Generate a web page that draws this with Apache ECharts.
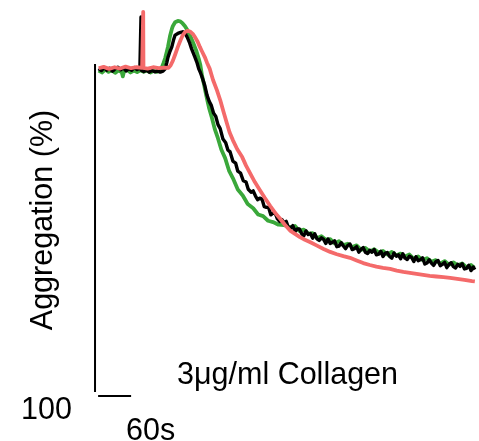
<!DOCTYPE html>
<html><head><meta charset="utf-8">
<script src="https://cdn.jsdelivr.net/npm/echarts@6/dist/echarts.min.js"></script>
<style>html,body{margin:0;padding:0;background:#fff}#c{width:479px;height:441px}</style>
</head><body><div id="c"></div>
<script>
// time (s), aggregation (%)
const greenTrace = [
[3,2.0],[9,2.6],[15,1.7],[21,2.4],[27,1.9],[33,2.7],[39,2.0],[45,2.5],[47,3.8],[49,2.3],[55,1.8],[61,2.6],[67,2.0],[73,2.5],[79,1.9],[85,2.4],[91,2.0],[97,2.6],[103,2.1],[109,2.4],[114,2.0],
[118,1.0],[121,-0.3],[124,-1.8],[127,-3.8],[129,-5.2],[131,-7.0],[133,-8.7],[136,-10.6],[138,-11.6],[142,-12.7],[147,-13.1],[151,-13.0],[155,-12.5],[160,-11.5],[164,-10.4],[170,-8.4],[175,-6.4],[181,-3.8],[185,-1.6],[188,0.4],[191,3.6],[194,5.8],[197,8.3],[200,10.6],[204,13.6],[209,16.5],[214,19.8],[220,22.7],[226,26.1],[233,28.7],[240,32.5],[247,34.8],[256,38.3],[265,40.1],[274,42.7],[284,44.0],[293,45.9],[302,46.4],[311,47.8],[320,48.2],[330,49.0],[340,49.1],[351,49.8],
[360,49.4],[368,50.9],[376,50.5],[384,51.7],[392,51.6],[400,53.1],[408,52.5],[416,53.6],[424,53.4],[432,54.7],[440,54.0],[448,55.2],[456,54.8],[464,55.8],[472,55.3],[480,56.7],[488,56.1],[496,57.2],[504,56.5],[512,57.5],[520,57.0],[528,58.1],[536,57.3],[544,58.4],[552,57.8],[560,58.7],[568,58.1],[576,59.4],[584,58.7],[592,59.8],[600,59.2],[608,60.3],[616,59.8],[624,60.9],[632,60.1],[640,61.2],[648,60.5],[656,61.4],[664,60.8],[672,62.0],[680,61.3],[686,62.1]
];
const blackTrace = [
[3,1.4],[8,2.0],[13,1.1],[18,1.9],[23,1.3],[28,2.2],[33,1.5],[38,1.0],[43,1.8],[48,1.2],[53,2.1],[58,1.4],[63,1.9],[68,1.1],[73,1.7],[78,1.3],[79.5,1.8],[80,-14.3],[80.5,1.9],[85,2.3],[90,1.9],[95,2.5],[100,2.0],[105,2.4],[110,2.1],[115,2.5],[120,2.2],
[124,1.5],[127,-0.5],[129,-2.0],[132,-3.5],[136,-5.2],[139,-7.2],[142,-8.8],[147,-9.3],[152,-9.6],[156,-9.8],[160,-9.4],[164,-8.2],[168,-6.6],[172,-4.6],[178,-2.1],[182,-0.3],[185,1.5],[188,2.6],[191,4.0],[196,6.6],[200,9.5],
[204,11.4],[208,12.7],[212,15.0],[216,16.0],[220,18.5],[224,19.7],[229,22.9],[234,24.0],[238,26.2],[242,26.8],[247,29.6],[252,30.2],[256,32.7],[261,33.3],[266,35.6],[271,36.0],[275,38.2],
[280,39.1],[284,38.7],[288,40.2],[292,41.4],[296,40.9],[300,41.2],[304,43.5],[308,43.7],[312,43.8],[316,46.0],[320,45.5],[324,45.5],[328,47.2],[332,48.0],[336,47.4],[340,48.4],[344,48.0],[348,49.9],[352,50.0],[356,49.3],[360,51.1],[364,50.3],[368,50.3],[372,51.7],[376,52.4],[380,50.9],[384,52.0],[388,51.7],[392,53.1],[396,51.8],[400,53.3],[404,53.8],[408,53.0],[412,53.5],[416,54.7],[420,53.4],[424,54.7],[428,54.4],[432,53.9],[436,55.7],[440,55.5],[444,54.5],[448,55.5],[452,56.3],[456,55.3],[460,54.9],[464,56.6],[468,56.3],[472,55.7],[476,57.4],[480,56.5],[484,56.0],[488,57.4],[492,57.8],[496,56.8],[500,57.4],[504,56.6],[508,58.2],[512,58.0],[516,57.1],[520,58.7],[524,57.7],[528,57.5],[532,58.7],[536,59.2],[540,57.6],[544,58.6],[548,58.2],[552,59.4],[556,57.9],[560,59.2],[564,59.6],[568,58.6],[572,59.0],[576,60.2],[580,58.8],[584,60.0],[588,59.7],[592,59.1],[596,61.0],[600,60.7],[604,59.7],[608,60.7],[612,61.4],[616,60.3],[620,59.9],[624,61.5],[628,61.1],[632,60.5],[636,62.1],[640,61.1],[644,60.6],[648,61.8],[652,62.2],[656,61.1],[660,61.7],[664,60.9],[668,62.5],[672,62.3],[676,61.4],[680,63.0],[684,61.9],[687,62.7]
];
const redTrace = [
[3,1.3],[12,0.9],[22,1.5],[32,1.0],[42,1.4],[52,0.8],[62,1.3],[72,1.0],[82,1.2],[83.5,1.0],[84,-15.9],[84.5,1.2],[92,1.4],[102,1.0],[112,1.3],[122,1.1],[130,1.2],
[134,0.4],[138,-1.0],[142,-2.8],[147,-5.2],[152,-7.3],[156,-8.8],[160,-9.7],[165,-10.1],[170,-9.8],[175,-9.0],[178,-8.2],[183,-6.8],[187,-5.2],[191,-3.8],[196,-2.1],[200,-0.4],[205,1.5],[208,3.2],[211,4.9],[218,8.0],[224,11.0],[230,14.6],[236,18.0],[241,20.8],[247,23.2],[255,26.0],[264,28.4],[271,31.0],[278,33.2],[287,36.0],[296,38.4],[305,40.8],[315,43.3],[324,45.4],[333,47.2],[342,49.1],[351,50.8],[360,51.8],[369,52.8],[378,53.6],[387,54.3],[400,55.4],[412,56.4],[424,57.3],[436,58.0],[448,58.6],[460,59.1],[472,59.9],[484,60.7],[496,61.3],[508,61.8],[520,62.2],[533,62.5],[545,63.0],[557,63.4],[569,63.7],[581,64.0],[593,64.3],[605,64.6],[617,64.8],[630,65.0],[642,65.2],[655,65.5],[668,65.8],[682,66.2],[687,66.3]
];
// scale bars: 100 % vertical, 60 s horizontal
const scaleBarY = [[-3.6,0],[-3.6,100]];
const scaleBarX = [[2,101.2],[62,101.2]];
const yLabel = 'Aggregation (%)';
const scaleYLabel = '100';
const scaleXLabel = '60s';
const conditionLabel = '3μg/ml Collagen';

const FONT = '"Liberation Sans", Arial, sans-serif';
const FS = 30.5;
const chart = echarts.init(document.getElementById('c'), null, {renderer:'canvas'});
function trace(data, color, w){
  return {type:'line', data:data, symbol:'none', showSymbol:false, smooth:false,
    lineStyle:{color:color, width:w, join:'round'}, animation:false, silent:true};
}
chart.setOption({
  animation:false,
  backgroundColor:'#ffffff',
  grid:{left:91.5, top:0, width:385, height:398.52},
  xAxis:{type:'value', min:-10, max:690, show:false},
  yAxis:{type:'value', inverse:true, min:-19.5, max:102, show:false},
  series:[
    trace(greenTrace, '#3aa83a', 3.8),
    trace(blackTrace, '#000000', 3.4),
    trace(redTrace, '#f46a6a', 3.8),
    trace(scaleBarY, '#000000', 2),
    trace(scaleBarX, '#000000', 2)
  ],
  graphic:[
    {type:'text', x:44, y:220, rotation:Math.PI/2, style:{text:yLabel, fontSize:FS, fontFamily:FONT, fill:'#000', textAlign:'center', textVerticalAlign:'middle'}},
    {type:'text', x:21, y:410.5, style:{text:scaleYLabel, fontSize:FS, fontFamily:FONT, fill:'#000', textAlign:'left', textVerticalAlign:'middle'}},
    {type:'text', x:126, y:432, style:{text:scaleXLabel, fontSize:FS, fontFamily:FONT, fill:'#000', textAlign:'left', textVerticalAlign:'middle'}},
    {type:'text', x:177, y:375.5, style:{text:conditionLabel, fontSize:FS, fontFamily:FONT, fill:'#000', textAlign:'left', textVerticalAlign:'middle'}}
  ]
});
</script>
</body></html>
